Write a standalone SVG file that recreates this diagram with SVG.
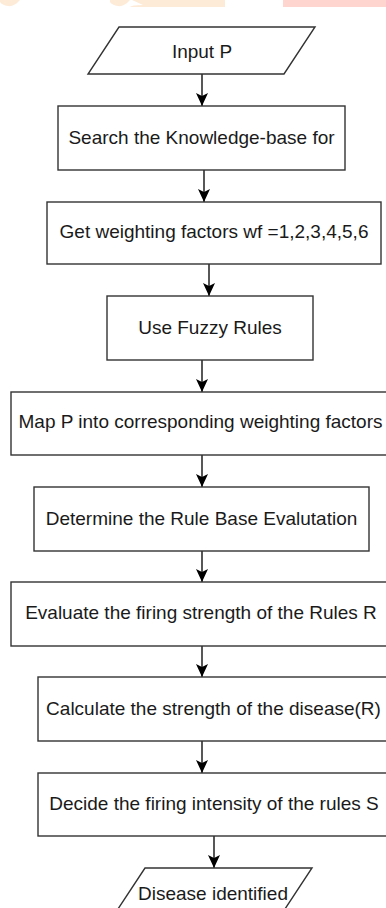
<svg xmlns="http://www.w3.org/2000/svg" width="386" height="908" viewBox="0 0 386 908">
<defs>
<style>
.box{fill:#fff;stroke:#333;stroke-width:1.4}
.lbl{font-family:"Liberation Sans",Arial,sans-serif;font-size:19px;fill:#1a1a1a;text-anchor:middle}
.con{stroke:#111;stroke-width:1.4;fill:none;marker-end:url(#arr)}
.wm1{fill:#fdebd8}
.wm2{fill:#ffd6cf}
</style>
<marker id="arr" markerUnits="userSpaceOnUse" markerWidth="14" markerHeight="12" refX="13" refY="6" orient="auto">
<path d="M0,0 L13,6 L0,12 L3,6 Z" fill="#000"/>
</marker>
</defs>
<rect width="386" height="908" fill="#fff"/>
<g id="watermark">
<path class="wm1" d="M0,0 H20 Q14,7 8,6 Q2,5 0,2 Z"/>
<path class="wm1" d="M110,0 H130 Q124,7 118,6 Q112,5 110,2 Z"/>
<path class="wm1" d="M132,0 H225 V7 H130 Q131,5 143,5 Z"/>
<rect class="wm2" x="283" y="0" width="103" height="7"/>
</g>
<g id="connectors">
<line class="con" x1="202" y1="74" x2="202" y2="106"/>
<line class="con" x1="204" y1="170" x2="204" y2="202"/>
<line class="con" x1="209" y1="264" x2="209" y2="296"/>
<line class="con" x1="202" y1="360" x2="202" y2="392"/>
<line class="con" x1="202" y1="455" x2="202" y2="487"/>
<line class="con" x1="202" y1="551" x2="202" y2="582"/>
<line class="con" x1="202" y1="646" x2="202" y2="677"/>
<line class="con" x1="202" y1="741" x2="202" y2="773"/>
<line class="con" x1="214" y1="836" x2="214" y2="868"/>
</g>
<g id="input">
<polygon class="box" points="119,27 315,27 284,74 88,74"/>
<text class="lbl" x="202" y="58">Input P</text>
</g>
<g id="search">
<rect class="box" x="58" y="106" width="287" height="64"/>
<text class="lbl" x="201.5" y="144">Search the Knowledge-base for</text>
</g>
<g id="weights">
<rect class="box" x="47" y="202" width="334" height="62"/>
<text class="lbl" x="214" y="238">Get weighting factors wf =1,2,3,4,5,6</text>
</g>
<g id="fuzzy">
<rect class="box" x="107" y="296" width="206" height="64"/>
<text class="lbl" x="210" y="334">Use Fuzzy Rules</text>
</g>
<g id="map">
<rect class="box" x="11" y="392" width="400" height="63"/>
<text class="lbl" x="200.5" y="428">Map P into corresponding weighting factors</text>
</g>
<g id="determine">
<rect class="box" x="34" y="487" width="335" height="64"/>
<text class="lbl" x="201.5" y="525">Determine the Rule Base Evalutation</text>
</g>
<g id="evaluate">
<rect class="box" x="11" y="582" width="400" height="64"/>
<text class="lbl" x="201" y="619">Evaluate the firing strength of the Rules R</text>
</g>
<g id="calculate">
<rect class="box" x="38" y="677" width="380" height="64"/>
<text class="lbl" x="213.5" y="715">Calculate the strength of the disease(R)</text>
</g>
<g id="decide">
<rect class="box" x="38" y="773" width="380" height="63"/>
<text class="lbl" x="214" y="810">Decide the firing intensity of the rules S</text>
</g>
<g id="output">
<polygon class="box" points="145,868 312,868 281,915 114,915"/>
<text class="lbl" x="213" y="900">Disease identified</text>
</g>
</svg>
